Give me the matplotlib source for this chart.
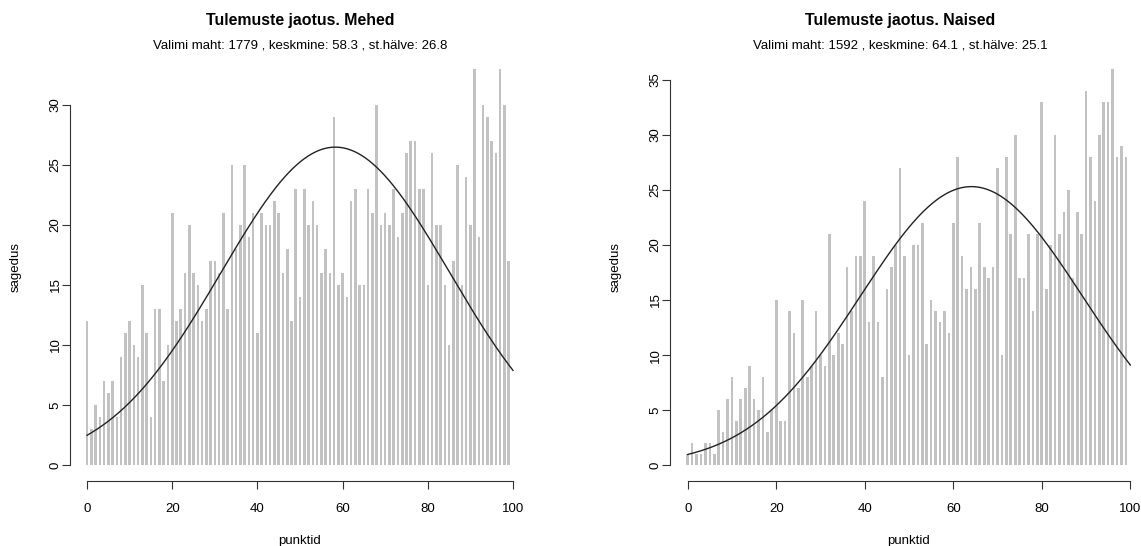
import numpy as np
import matplotlib
matplotlib.use("Agg")
from matplotlib import pyplot as plt

plt.rcParams['font.family'] = ['Liberation Sans', 'DejaVu Sans']

# score values (0..99) and counts
scores = list(range(100))

men = [12, 3, 5, 4, 7, 6, 7, 4, 9, 11, 12, 10, 9, 15, 11, 4, 13, 13, 7, 10, 21, 12, 13, 16, 20,
       16, 15, 12, 13, 17, 17, 16, 21, 13, 25, 18, 20, 25, 19, 21, 11, 21, 20, 20, 22, 21, 16, 18, 12, 23,
       14, 23, 20, 22, 20, 16, 18, 16, 29, 15, 16, 14, 22, 23, 15, 15, 23, 21, 30, 20, 21, 20, 23, 19, 21,
       26, 27, 27, 23, 23, 15, 26, 20, 20, 15, 10, 17, 25, 15, 24, 20, 33, 19, 30, 29, 27, 26, 33, 30, 17]

women = [1, 2, 1, 1, 2, 2, 1, 5, 3, 6, 8, 4, 6, 7, 9, 6, 5, 8, 3, 5, 15, 4,
         4, 14, 12, 7, 15, 8, 9, 14, 10, 9, 21, 10, 12, 11, 18, 14, 19, 19, 24, 13, 19, 13, 8, 16, 18, 20, 27,
         19, 10, 20, 20, 22, 11, 15, 14, 13, 14, 12, 22, 28, 19, 16, 18, 16, 22, 18, 17, 18, 27, 10, 28, 21,
         30, 17, 17, 21, 14, 21, 33, 16, 20, 30, 21, 23, 25, 17, 23, 21, 34, 28, 24, 30, 33, 33, 36, 28, 29, 28]

# summary stats shown in the subtitles
men_n, men_mean, men_sd = 1779, 58.3, 26.8
women_n, women_mean, women_sd = 1592, 64.1, 25.1

W, H = 1141, 546
fig = plt.figure(figsize=(W / 100, H / 100), dpi=100)


def panel(rect, counts, n, mean, sd, title, yticks, ymax):
    ax = fig.add_axes(rect)
    ax.bar(scores, counts, width=0.6, color='#c2c2c2', linewidth=0)
    xs = np.linspace(0, 100, 400)
    dens = n * np.exp(-0.5 * ((xs - mean) / sd) ** 2) / (sd * np.sqrt(2 * np.pi))
    ax.plot(xs, dens, color='#222222', lw=1.0)

    pad = 0.04 * ymax
    ax.set_xlim(-4, 104)
    ax.set_ylim(-pad, ymax + pad)
    for s in ['top', 'right']:
        ax.spines[s].set_visible(False)
    ax.spines['left'].set_bounds(yticks[0], yticks[-1])
    ax.spines['bottom'].set_bounds(0, 100)
    ax.set_xticks([0, 20, 40, 60, 80, 100])
    ax.set_yticks(yticks)
    ax.tick_params(length=5.5, width=0.8, labelsize=9.5, color='#333333')
    ax.tick_params(axis='x', pad=10)
    ax.tick_params(axis='y', pad=0.5)
    for lab in ax.get_yticklabels():
        lab.set_rotation(90)
        lab.set_va('center')
    for s in ['left', 'bottom']:
        ax.spines[s].set_linewidth(0.8)
        ax.spines[s].set_color('#333333')
    ax.set_xlabel('punktid', fontsize=9.5, labelpad=15)
    ax.set_ylabel('sagedus', fontsize=9.5, labelpad=20)

    cx = rect[0] + rect[2] / 2 if rect[0] < 0.5 else (670 + 230) / W
    fig.text(cx, 1 - 21 / H, title, ha='center', va='center',
             fontsize=11.4, fontweight='bold')
    fig.text(cx, 1 - 45 / H,
             'Valimi maht: {} , keskmine: {} , st.hälve: {}'.format(n, mean, sd),
             ha='center', va='center', fontsize=9.5)
    return ax


panel([70 / W, 65 / H, 460 / W, 428 / H], men, men_n, men_mean, men_sd,
      'Tulemuste jaotus. Mehed', [0, 5, 10, 15, 20, 25, 30], 33)
panel([670 / W, 65 / H, 478 / W, 428 / H], women, women_n, women_mean, women_sd,
      'Tulemuste jaotus. Naised', [0, 5, 10, 15, 20, 25, 30, 35], 36)

fig.savefig('out.png', dpi=100)
